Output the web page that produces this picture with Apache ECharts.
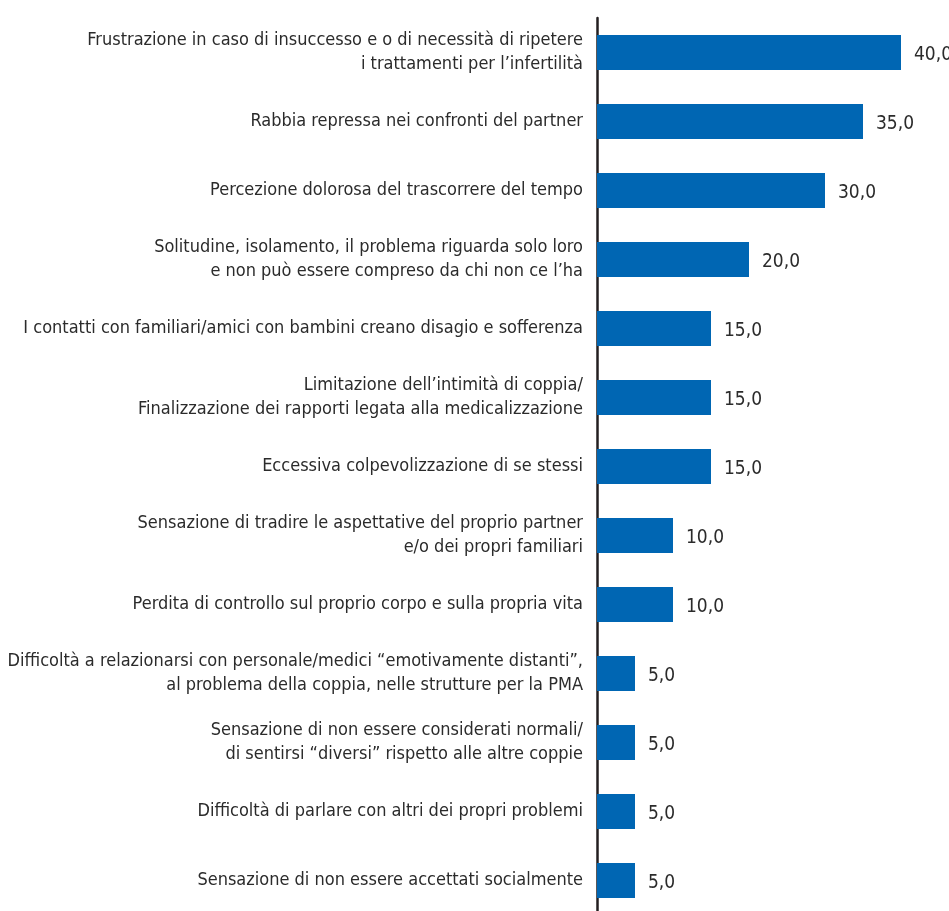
<!DOCTYPE html>
<html>
<head>
<meta charset="utf-8">
<script src="https://cdn.jsdelivr.net/npm/echarts@6/dist/echarts.min.js"></script>
<style>
html,body{margin:0;padding:0;background:#fff;}
#chart{width:949px;height:911px;}
</style>
</head>
<body>
<div id="chart"></div>
<script>
const categories = [
  "Frustrazione in caso di insuccesso e o di necessità di ripetere\ni trattamenti per l’infertilità",
  "Rabbia repressa nei confronti del partner",
  "Percezione dolorosa del trascorrere del tempo",
  "Solitudine, isolamento, il problema riguarda solo loro\ne non può essere compreso da chi non ce l’ha",
  "I contatti con familiari/amici con bambini creano disagio e sofferenza",
  "Limitazione dell’intimità di coppia/\nFinalizzazione dei rapporti legata alla medicalizzazione",
  "Eccessiva colpevolizzazione di se stessi",
  "Sensazione di tradire le aspettative del proprio partner\ne/o dei propri familiari",
  "Perdita di controllo sul proprio corpo e sulla propria vita",
  "Difficoltà a relazionarsi con personale/medici “emotivamente distanti”,\nal problema della coppia, nelle strutture per la PMA",
  "Sensazione di non essere considerati normali/\ndi sentirsi “diversi” rispetto alle altre coppie",
  "Difficoltà di parlare con altri dei propri problemi",
  "Sensazione di non essere accettati socialmente"
];
const values = [40, 35, 30, 20, 15, 15, 15, 10, 10, 5, 5, 5, 5];

const chart = echarts.init(document.getElementById('chart'));
const fam = "'DejaVu Sans Condensed', 'Liberation Sans Narrow', sans-serif";
chart.setOption({
  animation: false,
  backgroundColor: '#ffffff',
  grid: { left: 597, right: 48, top: 18, height: 897, outerBoundsMode: 'none', containLabel: false },
  xAxis: {
    type: 'value', min: 0, max: 40,
    show: false
  },
  yAxis: {
    type: 'category',
    data: categories,
    inverse: true,
    axisLine: { show: true, lineStyle: { color: '#231f20', width: 2.5 } },
    axisTick: { show: false },
    splitLine: { show: false },
    axisLabel: {
      margin: 14,
      color: '#2b2b2b',
      fontFamily: fam,
      fontSize: 18,
      lineHeight: 24,
      align: 'right'
    }
  },
  series: [{
    type: 'bar',
    data: values,
    barWidth: 35,
    itemStyle: { color: '#0066b3' },
    label: {
      show: true,
      position: 'right',
      distance: 13,
      offset: [0, 3],
      color: '#2b2b2b',
      fontFamily: fam,
      fontSize: 19,
      formatter: p => p.value.toFixed(1).replace('.', ',')
    }
  }]
});
</script>
</body>
</html>
